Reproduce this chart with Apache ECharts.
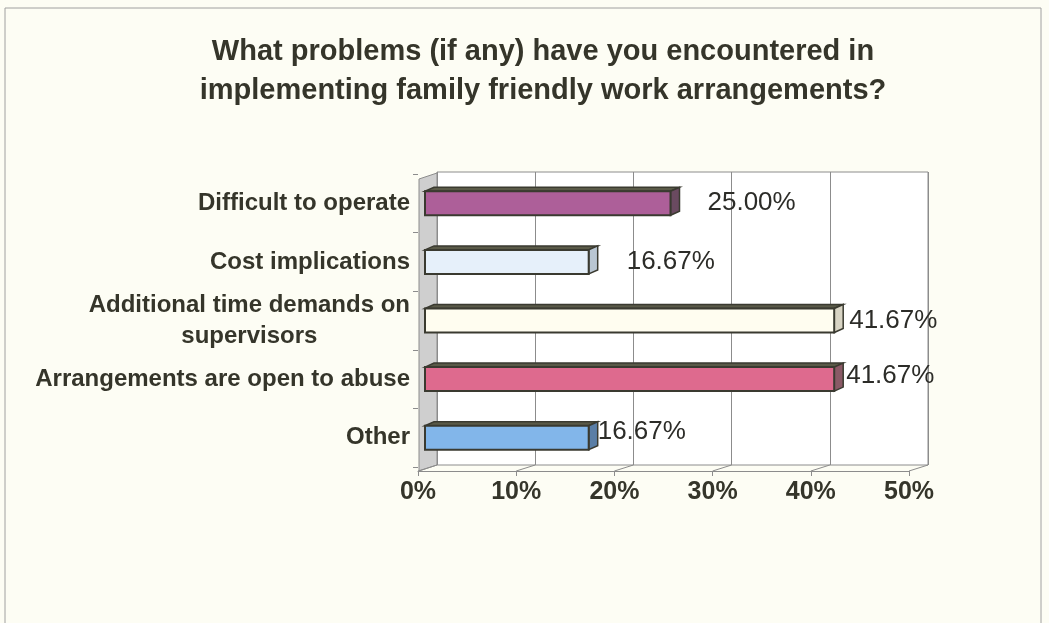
<!DOCTYPE html>
<html>
<head>
<meta charset="utf-8">
<script src="https://cdn.jsdelivr.net/npm/echarts@6/dist/echarts.min.js"></script>
<style>html,body{margin:0;padding:0;background:#fdfdf4;}#c{width:1049px;height:623px;}</style>
</head>
<body>
<div id="c"></div>
<script>
// ---- data ----
const titleText = 'What problems (if any) have you encountered in\nimplementing family friendly work arrangements?';
const categories = ['Difficult to operate', 'Cost implications', 'Additional time demands on\nsupervisors', 'Arrangements are open to abuse', 'Other'];
const values = [25.00, 16.67, 41.67, 41.67, 16.67];
const ticks = [0, 10, 20, 30, 40, 50];

// ---- styles ----
const frontColors = ['#ad5f99', '#e6f0fa', '#fffdf0', '#de6a8e', '#82b6ea'];
const sideColors  = ['#6a4a60', '#b9c6d2', '#d8d4c4', '#8a5a66', '#5a7ea6'];
const labelGap = [28, 29, 6, 3, 0];
const labelDy  = [0, 0, 0, -3, -6];
const edge = '#3a3a30';
const textDark = '#35352a';
const DX = 19, DY = -6; // depth offset of back wall

const chart = echarts.init(document.getElementById('c'), null, {renderer: 'canvas'});

const barData = values.map((v, i) => [v, i]);
const tickData = ticks.map(t => [t, 0]);

chart.setOption({
  backgroundColor: '#fdfdf4',
  animation: false,
  graphic: [
    {type: 'rect', shape: {x: 5, y: 8, width: 1036, height: 625}, style: {fill: 'none', stroke: '#a0a0a0', lineWidth: 1}, z: 0},
    {type: 'text', x: 543, y: 32, style: {text: titleText, textAlign: 'center', fill: textDark,
      font: 'bold 29px "Liberation Sans", Arial, sans-serif', lineHeight: 39}, z: 10}
  ],
  grid: [
    {left: 418, right: 140, top: 174, bottom: 156},
    {left: 418 + DX, right: 140 - DX, top: 178 + DY, bottom: 152 - DY, show: true,
      backgroundColor: '#ffffff', borderColor: '#8c8c8c', borderWidth: 1}
  ],
  xAxis: [
    {type: 'value', gridIndex: 0, min: 0, max: 50, interval: 10, offset: 4,
      axisLine: {show: true, lineStyle: {color: '#8c8c8c', width: 1}},
      axisTick: {show: true, length: 5, lineStyle: {color: '#8c8c8c'}},
      splitLine: {show: false},
      axisLabel: {formatter: v => v + '%', color: textDark, fontFamily: '"Liberation Sans", Arial, sans-serif',
        fontWeight: 'bold', fontSize: 25, margin: 9}},
    {type: 'value', gridIndex: 1, min: 0, max: 50, interval: 10,
      axisLine: {show: false}, axisTick: {show: false}, axisLabel: {show: false},
      splitLine: {show: true, lineStyle: {color: '#8c8c8c', width: 1}}}
  ],
  yAxis: [
    {type: 'category', gridIndex: 0, data: categories, inverse: true,
      axisLine: {show: false},
      axisTick: {show: true, length: 5, lineStyle: {color: '#8c8c8c'}},
      axisLabel: {color: textDark, margin: 8,
        formatter: v => v.split('\n').map(s => '{c|' + s + '}').join('\n'),
        rich: {c: {align: 'center', fontFamily: '"Liberation Sans", Arial, sans-serif', fontWeight: 'bold',
          fontSize: 24, color: textDark, lineHeight: 31}}}},
    {type: 'value', gridIndex: 1, show: false, min: 0, max: 1}
  ],
  series: [
    {
      type: 'custom', name: 'frame', xAxisIndex: 0, yAxisIndex: 0, z: 1, silent: true,
      data: tickData,
      renderItem: function (params, api) {
        const cs = params.coordSys;
        const x = api.coord([api.value(0), 0])[0];
        const yb = cs.y + cs.height + 4;
        const children = [{type: 'line', shape: {x1: x, y1: yb, x2: x + DX, y2: yb + DY},
          style: {stroke: '#8c8c8c', lineWidth: 1}}];
        if (params.dataIndex === 0) {
          const yt = cs.y + 5;
          children.unshift({type: 'polygon', shape: {points: [[x + 1, yt], [x + DX, yt + DY], [x + DX, yb + DY], [x + 1, yb]]},
            style: {fill: '#cfcfcf', stroke: '#8c8c8c', lineWidth: 1}});
        }
        return {type: 'group', children: children};
      }
    },
    {
      type: 'custom', name: 'bars', xAxisIndex: 0, yAxisIndex: 0, z: 5,
      data: barData,
      encode: {x: 0, y: 1},
      renderItem: function (params, api) {
        const i = params.dataIndex;
        const v = api.value(0), ci = api.value(1);
        const p0 = api.coord([0, ci]);
        const p1 = api.coord([v, ci]);
        const h = 24, ox = 7, dx = 9, dy = -4;
        const xl = p0[0] + ox, xr = p1[0] + ox;
        const yt = p0[1] - h / 2, yb = yt + h;
        return {type: 'group', children: [
          {type: 'polygon', shape: {points: [[xl, yt], [xl + dx, yt + dy], [xr + dx, yt + dy], [xr, yt]]},
            style: {fill: '#5a5a48', stroke: edge, lineWidth: 1.5}},
          {type: 'polygon', shape: {points: [[xr, yt], [xr + dx, yt + dy], [xr + dx, yb + dy], [xr, yb]]},
            style: {fill: sideColors[i], stroke: edge, lineWidth: 1.5}},
          {type: 'rect', shape: {x: xl, y: yt, width: xr - xl, height: h},
            style: {fill: frontColors[i], stroke: edge, lineWidth: 2}},
          {type: 'text', x: xr + dx + labelGap[i], y: p0[1] + labelDy[i],
            style: {text: v.toFixed(2) + '%', textAlign: 'left', textVerticalAlign: 'middle',
              fill: '#2c2c28', font: '26px "Liberation Sans", Arial, sans-serif'}}
        ]};
      }
    }
  ]
});
</script>
</body>
</html>
